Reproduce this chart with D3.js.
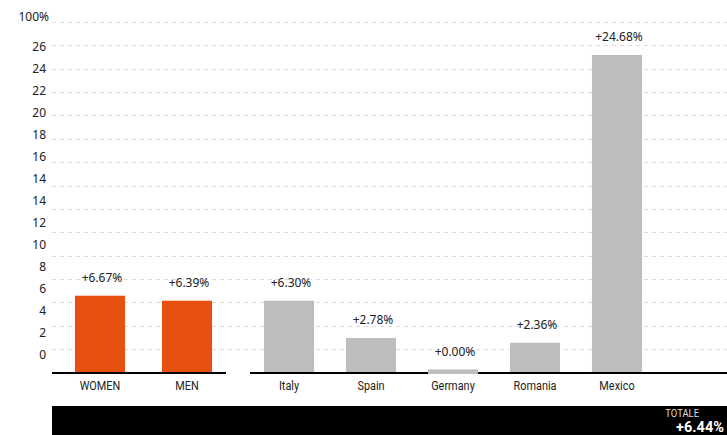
<!DOCTYPE html>
<html>
<head>
<meta charset="utf-8">
<script src="https://cdn.jsdelivr.net/npm/d3@7"></script>
<style>
  html, body { margin: 0; padding: 0; background: #fff; }
  svg { display: block; }
  .num { font-family: "Noto Sans", "Open Sans", sans-serif; font-size: 12px; fill: #222; }
  .cat { font-family: "Roboto", "Liberation Sans", sans-serif; font-size: 13px; fill: #222; }
</style>
</head>
<body>
<svg id="chart" width="727" height="435"></svg>
<script>
// ---- data ----
const groupCategories = ["WOMEN", "MEN"];
const groupBarValues = [5.94, 5.55];            // bar heights as drawn
const groupLabels = ["+6.67%", "+6.39%"];

const countryCategories = ["Italy", "Spain", "Germany", "Romania", "Mexico"];
const countryBarValues = [5.55, 2.65, 0.2, 2.28, 24.68];
const countryLabels = ["+6.30%", "+2.78%", "+0.00%", "+2.36%", "+24.68%"];

const yTickLabels = ["26", "24", "22", "20", "18", "16", "14", "14", "12", "10", "8", "6", "4", "2", "0"];
const yUnitLabel = "100%";
const gridLineCount = 15;

const totalTitle = "TOTALE";
const totalValue = "+6.44%";

// ---- layout ----
const W = 727, H = 435;
const svg = d3.select("#chart");
const baseY = 372;

const y = d3.scaleLinear().domain([0, 24.68]).range([baseY, 55]);

// gridlines
const grid = d3.scaleLinear().domain([0, gridLineCount - 1]).range([349, 22]);
svg.append("g").selectAll("line")
  .data(d3.range(gridLineCount))
  .join("line")
  .attr("x1", 52).attr("x2", W)
  .attr("y1", d => Math.round(grid(d)) + 0.5)
  .attr("y2", d => Math.round(grid(d)) + 0.5)
  .attr("stroke", "#dcdcdc")
  .attr("stroke-width", 1)
  .attr("stroke-dasharray", "4,4");

// y tick labels
const yTicks = d3.scalePoint().domain(d3.range(yTickLabels.length)).range([47, 355]);
svg.append("g").selectAll("text")
  .data(yTickLabels)
  .join("text")
  .attr("class", "num")
  .attr("x", 46)
  .attr("y", (d, i) => yTicks(i))
  .attr("dy", "0.35em")
  .attr("text-anchor", "end")
  .text(d => d);

svg.append("text")
  .attr("class", "num")
  .attr("x", 49)
  .attr("y", 17)
  .attr("dy", "0.35em")
  .attr("text-anchor", "end")
  .text(yUnitLabel);

// panels
function panel(cats, vals, labels, range, pIn, pOut, color, lineX) {
  const x = d3.scaleBand().domain(cats).range(range).paddingInner(pIn).paddingOuter(pOut);
  const g = svg.append("g");
  g.append("line")
    .attr("x1", lineX[0]).attr("x2", lineX[1])
    .attr("y1", baseY + 1).attr("y2", baseY + 1)
    .attr("stroke", "#000").attr("stroke-width", 2);
  g.selectAll("rect")
    .data(cats)
    .join("rect")
    .attr("x", d => x(d))
    .attr("width", x.bandwidth())
    .attr("y", (d, i) => y(vals[i]))
    .attr("height", (d, i) => y(0) - y(vals[i]) + (vals[i] < 1 ? 2 : 0))
    .attr("fill", color);
  g.selectAll("text.val")
    .data(cats)
    .join("text")
    .attr("class", "num val")
    .attr("x", d => x(d) + x.bandwidth() / 2 + 2)
    .attr("y", (d, i) => y(vals[i]) - 18)
    .attr("dy", "0.35em")
    .attr("text-anchor", "middle")
    .text((d, i) => labels[i]);
  g.selectAll("text.catl")
    .data(cats)
    .join("text")
    .attr("class", "cat catl")
    .attr("transform", d => `translate(${x(d) + x.bandwidth() / 2},385) scale(0.84,1)`)
    .attr("dy", "0.35em")
    .attr("text-anchor", "middle")
    .text(d => d);
}

panel(groupCategories, groupBarValues, groupLabels, [52, 235], 0.425, 0.264, "#E85010", [52, 226]);
panel(countryCategories, countryBarValues, countryLabels, [250, 656], 0.39, 0.171, "#BDBDBB", [250, W]);

// total bar
svg.append("rect").attr("x", 52).attr("y", 406).attr("width", W - 52).attr("height", H - 406).attr("fill", "#000");
svg.append("text")
  .attr("transform", "translate(699,417) scale(0.9,1)")
  .attr("text-anchor", "end")
  .style("font-family", "Roboto, sans-serif")
  .style("font-size", "10.5px")
  .attr("fill", "#ddd")
  .text(totalTitle);
svg.append("text")
  .attr("transform", "translate(724,431.5) scale(0.97,1)")
  .attr("text-anchor", "end")
  .style("font-family", "Roboto, sans-serif")
  .style("font-size", "15px")
  .style("font-weight", "bold")
  .attr("fill", "#fff")
  .text(totalValue);
</script>
</body>
</html>
